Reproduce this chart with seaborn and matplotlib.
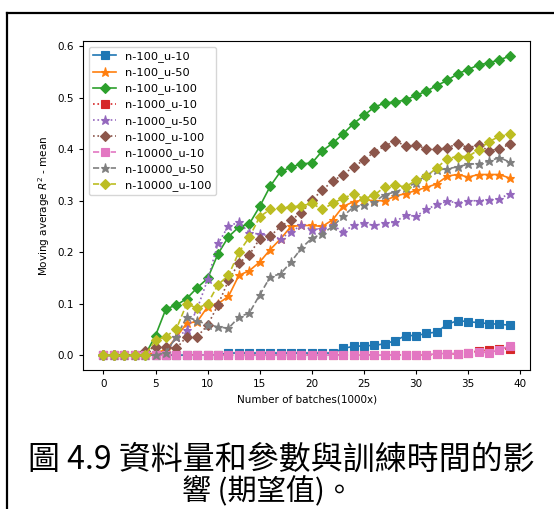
import numpy as np
import matplotlib
matplotlib.use("Agg")
import matplotlib.pyplot as plt
import seaborn as sns
from matplotlib.lines import Line2D

# ── data ─────────────────────────────────────────────────────────────────────
batches = np.arange(40)

n100_u10 = [0, 0, 0, 0, 0, 0, 0, 0, 0, 0, 0, 0, 0.004, 0.004, 0.004, 0.004, 0.004, 0.004, 0.004, 0.004,
            0.004, 0.004, 0.004, 0.013, 0.017, 0.018, 0.019, 0.022, 0.028, 0.038, 0.038, 0.042, 0.045, 0.060,
            0.067, 0.065, 0.063, 0.061, 0.060, 0.058]
n100_u50 = [0, 0, 0, 0, 0, 0.005, 0.010, 0.035, 0.062, 0.065, 0.094, 0.100, 0.114, 0.155, 0.164, 0.181,
            0.205, 0.226, 0.250, 0.252, 0.252, 0.250, 0.263, 0.289, 0.298, 0.302, 0.300, 0.300, 0.309, 0.314,
            0.320, 0.326, 0.333, 0.348, 0.351, 0.346, 0.351, 0.351, 0.351, 0.344]
n100_u100 = [0, 0, 0, 0, 0, 0.038, 0.090, 0.097, 0.110, 0.131, 0.149, 0.197, 0.230, 0.249, 0.255, 0.289,
             0.328, 0.357, 0.365, 0.372, 0.373, 0.397, 0.412, 0.430, 0.450, 0.466, 0.482, 0.490, 0.492, 0.496,
             0.505, 0.513, 0.524, 0.534, 0.547, 0.555, 0.564, 0.568, 0.574, 0.581]
n1000_u10 = [0] * 32 + [0.002, 0.002, 0.003, 0.005, 0.008, 0.010, 0.012, 0.012]
n1000_u50 = [0, 0, 0, 0, 0, 0, 0.005, 0.035, 0.048, 0.090, 0.147, 0.217, 0.251, 0.258, 0.238, 0.235,
             0.232, 0.226, 0.240, 0.252, 0.244, 0.246, 0.252, 0.240, 0.252, 0.256, 0.252, 0.256, 0.259, 0.272,
             0.270, 0.283, 0.293, 0.299, 0.296, 0.300, 0.300, 0.302, 0.304, 0.314]
n1000_u100 = [0, 0, 0, 0, 0.008, 0.016, 0.016, 0.013, 0.036, 0.036, 0.058, 0.098, 0.145, 0.179, 0.195, 0.226,
              0.231, 0.250, 0.263, 0.276, 0.301, 0.321, 0.338, 0.351, 0.366, 0.379, 0.395, 0.406, 0.417, 0.406,
              0.408, 0.401, 0.401, 0.403, 0.411, 0.403, 0.408, 0.397, 0.401, 0.410]
n10000_u10 = [0] * 32 + [0.003, 0.003, 0.003, 0.005, 0.006, 0.005, 0.010, 0.018]
n10000_u50 = [0, 0, 0, 0, 0, 0, 0.005, 0.036, 0.074, 0.067, 0.059, 0.055, 0.052, 0.074, 0.082, 0.117,
              0.152, 0.158, 0.181, 0.208, 0.227, 0.236, 0.250, 0.270, 0.288, 0.292, 0.298, 0.312, 0.317, 0.325,
              0.335, 0.350, 0.360, 0.362, 0.366, 0.371, 0.372, 0.377, 0.384, 0.375]
n10000_u100 = [0, 0, 0, 0, 0, 0.029, 0.036, 0.051, 0.100, 0.091, 0.100, 0.137, 0.155, 0.200, 0.229, 0.269,
               0.283, 0.286, 0.288, 0.290, 0.295, 0.283, 0.295, 0.305, 0.313, 0.304, 0.311, 0.327, 0.330, 0.327,
               0.340, 0.348, 0.364, 0.382, 0.386, 0.386, 0.399, 0.415, 0.425, 0.429]

series_names = ["n-100_u-10", "n-100_u-50", "n-100_u-100",
                "n-1000_u-10", "n-1000_u-50", "n-1000_u-100",
                "n-10000_u-10", "n-10000_u-50", "n-10000_u-100"]
series_vals = [n100_u10, n100_u50, n100_u100,
               n1000_u10, n1000_u50, n1000_u100,
               n10000_u10, n10000_u50, n10000_u100]

caption_1 = "圖 4.9 資料量和參數與訓練時間的影"
caption_2 = "響 (期望值)。"

# ── styles ───────────────────────────────────────────────────────────────────
colors  = sns.color_palette("tab10", 9)
markers = ["s", "*", "D"] * 3
lstyles = ["-"] * 3 + [":"] * 3 + ["--"] * 3

fig = plt.figure(figsize=(5.54, 5.09), dpi=100)
ax = fig.add_axes([0.150, 0.273, 0.807, 0.646])

for name, vals, c, m, ls in zip(series_names, series_vals, colors, markers, lstyles):
    sns.lineplot(x=batches, y=vals, ax=ax, color=c, marker=m, linestyle=ls,
                 linewidth=1.2, markersize=5.5 if m != "*" else 6.5,
                 markeredgecolor=c, markeredgewidth=0.8, label=name)

ax.set_xticks(range(0, 41, 5))
ax.set_yticks(np.arange(0, 0.61, 0.1))
ax.set_xlabel("Number of batches(1000x)", fontsize=7.5)
ax.set_ylabel("Moving average $R^2$ - mean", fontsize=7.5)
ax.tick_params(labelsize=7.5, length=3)
ax.legend(loc="upper left", fontsize=8.2, handlelength=2.0, labelspacing=0.45)

# caption under the chart
cjk = ["Noto Sans CJK TC", "DejaVu Sans"]
fig.text(281 / 554, 1 - 460 / 509, caption_1, ha="center", va="center",
         fontsize=23, family=cjk)
fig.text(268 / 554, 1 - 491 / 509, caption_2, ha="center", va="center",
         fontsize=21, family=cjk)

# outer frame (only top & left edge inside the picture)
fig.add_artist(Line2D([7 / 554, 1.0], [1 - 13 / 509, 1 - 13 / 509], color="black", lw=1.6))
fig.add_artist(Line2D([7 / 554, 7 / 554], [1 - 13 / 509, 0.0], color="black", lw=1.6))

plt.savefig("out.png", dpi=100)
plt.close()
